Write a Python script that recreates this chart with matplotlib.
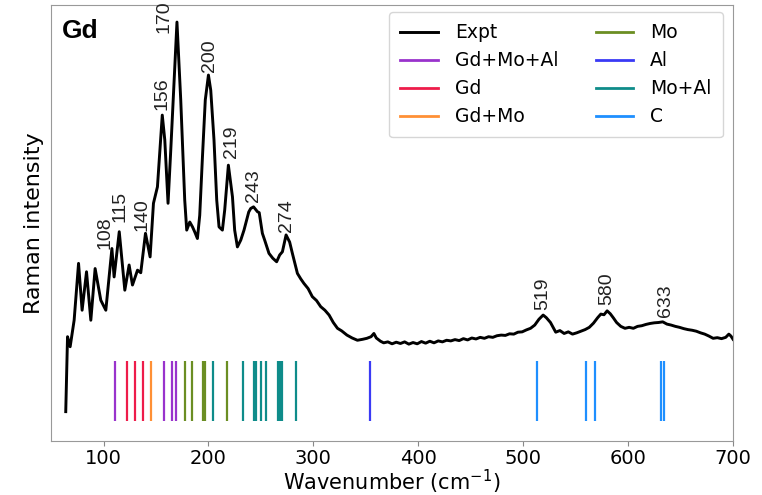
import matplotlib.pyplot as plt
import numpy as np

# Experimental Raman spectrum (normalised to the 170 cm-1 peak)
wavenumber = [64, 65.7, 68.2, 72, 76.2, 79.6, 83.8, 87.9, 92, 97.4, 102.2, 108, 110.1, 115,
              120.3, 124.4, 127.6, 132.4, 135.5, 140, 144.4, 147.6, 151.4, 156, 158.4, 161.5,
              164.1, 170, 173.6, 177.4, 179.3, 182.2, 184.8, 187, 189.5, 191.7, 194.3, 197,
              200, 202.2, 205.3, 207.9, 210.1, 213.3, 215.5, 219, 222.9, 225, 227.6, 230.8,
              233.9, 238.4, 240.3, 243, 246.7, 248.4, 251.4, 253.6, 257.7, 261.3, 265, 267.9,
              270.5, 274, 277.4, 280, 284.8, 288, 291, 295, 299, 303, 307, 311, 315, 319, 323,
              327, 332, 337, 342, 347, 351, 355, 357.7, 360, 364, 367, 371, 375, 379, 383, 387,
              391, 395, 399, 403, 407, 411, 415, 419, 423, 427, 431, 435, 439, 443, 447, 451,
              455, 459, 463, 467, 471, 475, 479, 483, 487, 491, 495, 499, 503, 507, 511, 515,
              519, 522, 526, 529, 531, 535, 539, 543, 547, 551, 555, 559, 563, 567, 571, 574,
              577, 580, 583, 586, 589, 593, 597, 601, 605, 609, 613, 617, 621, 625, 629, 633,
              637, 641, 645, 649, 653, 657, 661, 665, 669, 673, 677, 681, 685, 689, 693, 696,
              698, 700]
intensity = [-0.206, 0.026, -0.005, 0.077, 0.253, 0.108, 0.227, 0.077, 0.237, 0.139, 0.108,
             0.299, 0.211, 0.351, 0.170, 0.248, 0.186, 0.232, 0.224, 0.346, 0.273, 0.439,
             0.490, 0.712, 0.635, 0.439, 0.604, 1.000, 0.759, 0.449, 0.356, 0.381, 0.366,
             0.350, 0.330, 0.402, 0.583, 0.759, 0.836, 0.789, 0.635, 0.449, 0.366, 0.356,
             0.418, 0.557, 0.459, 0.356, 0.304, 0.325, 0.356, 0.412, 0.423, 0.428, 0.413,
             0.410, 0.346, 0.325, 0.284, 0.269, 0.258, 0.279, 0.289, 0.341, 0.319, 0.284,
             0.222, 0.205, 0.191, 0.175, 0.150, 0.138, 0.119, 0.108, 0.093, 0.070, 0.052,
             0.044, 0.031, 0.022, 0.015, 0.018, 0.021, 0.026, 0.036, 0.022, 0.012, 0.007,
             0.010, 0.004, 0.009, 0.005, 0.010, 0.003, 0.008, 0.004, 0.011, 0.006, 0.012,
             0.007, 0.013, 0.010, 0.015, 0.013, 0.017, 0.014, 0.020, 0.016, 0.022, 0.019,
             0.024, 0.021, 0.026, 0.024, 0.029, 0.031, 0.030, 0.035, 0.034, 0.040, 0.041,
             0.047, 0.052, 0.062, 0.080, 0.093, 0.085, 0.070, 0.052, 0.040, 0.045, 0.036,
             0.041, 0.034, 0.038, 0.043, 0.048, 0.055, 0.068, 0.085, 0.096, 0.094, 0.106,
             0.097, 0.084, 0.070, 0.058, 0.052, 0.055, 0.052, 0.058, 0.060, 0.064, 0.067,
             0.069, 0.070, 0.072, 0.065, 0.062, 0.058, 0.055, 0.051, 0.048, 0.046, 0.043,
             0.038, 0.034, 0.028, 0.021, 0.023, 0.020, 0.024, 0.034, 0.028, 0.018]

# Labelled peaks
peaks = [108, 115, 140, 156, 170, 200, 219, 243, 274, 519, 580, 633]

# Calculated modes by atomic contribution
modes_gdmoal = [111, 157.4, 165, 169.2]
modes_gd = [122.8, 129.8, 137.4]
modes_gdmo = [145.4]
modes_mo = [177.3, 184.8, 194.7, 196.9, 218]
modes_al = [354]
modes_moal = [204.3, 232.6, 243.8, 245.4, 249.8, 254.4, 266, 268.2, 270.4, 283]
modes_c = [513.6, 559.6, 568.9, 631.1, 634.5]

fig = plt.figure(figsize=(7.62, 4.95), dpi=100)
ax = fig.add_axes([0.067, 0.109, 0.895, 0.881])

ax.plot(wavenumber, intensity, color="black", lw=2.1, label="Expt")

groups = [(modes_gdmoal, "#9933cc", "Gd+Mo+Al"),
          (modes_gd, "#ee1c4a", "Gd"),
          (modes_gdmo, "#ff9035", "Gd+Mo"),
          (modes_mo, "#6b8e23", "Mo"),
          (modes_al, "#3a3af5", "Al"),
          (modes_moal, "#0e8c8a", "Mo+Al"),
          (modes_c, "#1e8fff", "C")]
for modes, col, name in groups:
    ax.vlines(modes, -0.235, -0.05, colors=col, lw=1.6)
    ax.plot([], [], color=col, lw=2, label=name)

# peak labels, offsets in points (x, y)
offsets = [(-5, 0), (0.5, 7), (-2.5, 2), (-0.5, 3.5), (-9, -8), (0.7, 2),
           (2, 5), (0, 3.5), (0, 2), (0, 3.5), (0, 4), (2, 3.5)]
for p, (dx, dy) in zip(peaks, offsets):
    ax.annotate(str(p), (p, np.interp(p, wavenumber, intensity)), xytext=(dx, dy),
                textcoords="offset points", rotation=90, ha="center", va="bottom",
                fontsize=14, family="Liberation Sans", color="#222222")

ax.text(0.016, 0.968, "Gd", transform=ax.transAxes, fontsize=19, fontweight="bold",
        family="Liberation Sans", va="top", ha="left")

ax.set_xlim(50, 700)
ax.set_ylim(-0.297, 1.053)
ax.set_yticks([])
ax.set_xticks([100, 200, 300, 400, 500, 600, 700])
ax.tick_params(axis="x", labelsize=14, color="#888888", length=3.5, pad=2)
for s in ax.spines.values():
    s.set_color("#999999")
ax.set_xlabel("Wavenumber (cm$^{-1}$)", fontsize=15, labelpad=0)
ax.set_ylabel("Raman intensity", fontsize=16, labelpad=5)

ax.legend(ncol=2, loc="upper right", fontsize=13.5, labelspacing=0.48, borderpad=0.6,
          handletextpad=0.9, columnspacing=2.0, borderaxespad=0,
          bbox_to_anchor=(0.985, 0.984))

plt.savefig("out.png", dpi=100)
